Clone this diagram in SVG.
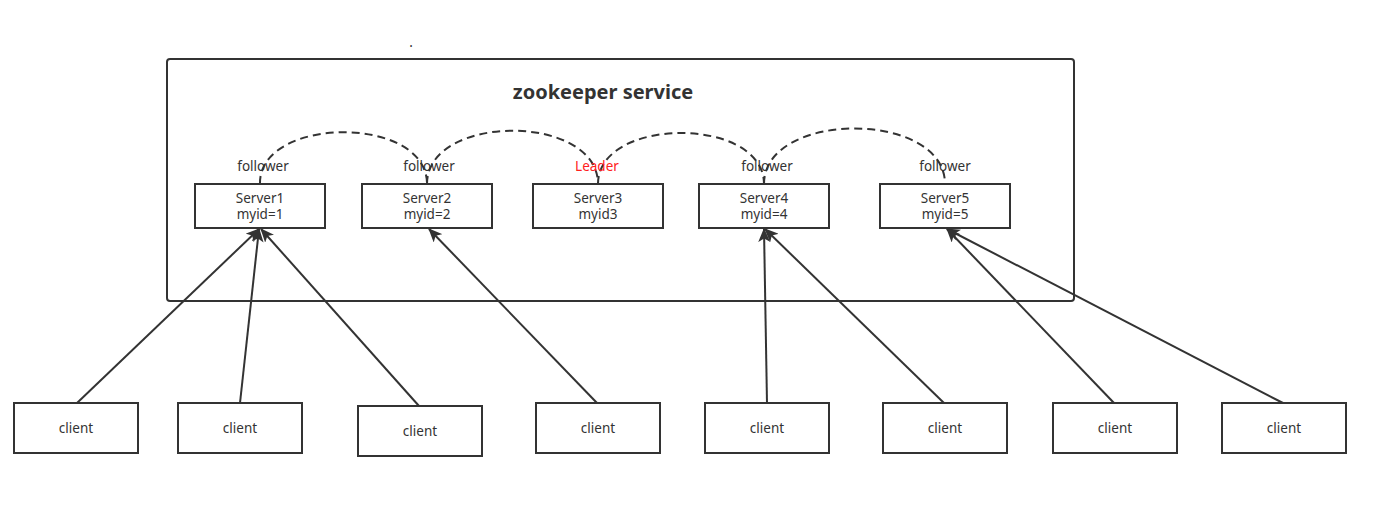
<svg xmlns="http://www.w3.org/2000/svg" width="1394" height="505" viewBox="0 0 1394 505">
<style>
.box{fill:#fff;stroke:#333;stroke-width:2}
.t{font-family:"Noto Sans","Open Sans",sans-serif;font-size:13.5px;fill:#333;text-anchor:middle}
.lead{fill:#ff2020}
.arc{fill:none;stroke:#333;stroke-width:2;stroke-dasharray:8 5}
.ln{fill:none;stroke:#333;stroke-width:2;marker-end:url(#ah)}
</style>
<defs>
<marker id="ah" viewBox="0 0 14 12" refX="13" refY="6" markerWidth="7" markerHeight="6" orient="auto" markerUnits="strokeWidth">
<path d="M0,0 L14,6 L0,12 L3.5,6 Z" fill="#333"/>
</marker>
</defs>
<rect width="1394" height="505" fill="#fff"/>
<text x="411" y="47" class="t">.</text>
<g id="service">
<rect x="167" y="59" width="907" height="242" rx="3" class="box" fill="none"/>
<text x="603" y="99" class="t" style="font-size:20px;font-weight:bold">zookeeper service</text>
</g>
<g id="connectors">
<path class="arc" d="M260,184 C258,116 427,114 427,184"/>
<path class="arc" d="M427,184 C427,113 598,113 598,184"/>
<path class="arc" d="M598,184 C598,116 764,116 764,184"/>
<path class="arc" d="M764,184 C764,110 945,110 945,184"/>
<line class="ln" x1="77" y1="403" x2="259" y2="229"/>
<line class="ln" x1="240" y1="403" x2="259" y2="229"/>
<line class="ln" x1="419" y1="406" x2="261" y2="229"/>
<line class="ln" x1="597" y1="403" x2="429" y2="229"/>
<line class="ln" x1="767" y1="403" x2="764" y2="229"/>
<line class="ln" x1="944" y1="403" x2="765" y2="229"/>
<line class="ln" x1="1114" y1="403" x2="947" y2="229"/>
<line class="ln" x1="1283" y1="403" x2="947" y2="229"/>
</g>
<g id="server1"><text x="263" y="171" class="t">follower</text><rect x="195" y="184" width="130" height="44" class="box"/><text x="260" y="203" class="t">Server1</text><text x="260" y="219" class="t">myid=1</text></g>
<g id="server2"><text x="429" y="171" class="t">follower</text><rect x="362" y="184" width="130" height="44" class="box"/><text x="427" y="203" class="t">Server2</text><text x="427" y="219" class="t">myid=2</text></g>
<g id="server3"><text x="597" y="171" class="t lead">Leader</text><rect x="533" y="184" width="130" height="44" class="box"/><text x="598" y="203" class="t">Server3</text><text x="598" y="219" class="t">myid3</text></g>
<g id="server4"><text x="767" y="171" class="t">follower</text><rect x="699" y="184" width="130" height="44" class="box"/><text x="764" y="203" class="t">Server4</text><text x="764" y="219" class="t">myid=4</text></g>
<g id="server5"><text x="945" y="171" class="t">follower</text><rect x="880" y="184" width="130" height="44" class="box"/><text x="945" y="203" class="t">Server5</text><text x="945" y="219" class="t">myid=5</text></g>
<g id="client1"><rect x="14" y="403" width="124" height="50" class="box"/><text x="76" y="433" class="t">client</text></g>
<g id="client2"><rect x="178" y="403" width="124" height="50" class="box"/><text x="240" y="433" class="t">client</text></g>
<g id="client3"><rect x="358" y="406" width="124" height="50" class="box"/><text x="420" y="436" class="t">client</text></g>
<g id="client4"><rect x="536" y="403" width="124" height="50" class="box"/><text x="598" y="433" class="t">client</text></g>
<g id="client5"><rect x="705" y="403" width="124" height="50" class="box"/><text x="767" y="433" class="t">client</text></g>
<g id="client6"><rect x="883" y="403" width="124" height="50" class="box"/><text x="945" y="433" class="t">client</text></g>
<g id="client7"><rect x="1053" y="403" width="124" height="50" class="box"/><text x="1115" y="433" class="t">client</text></g>
<g id="client8"><rect x="1222" y="403" width="124" height="50" class="box"/><text x="1284" y="433" class="t">client</text></g>
</svg>
